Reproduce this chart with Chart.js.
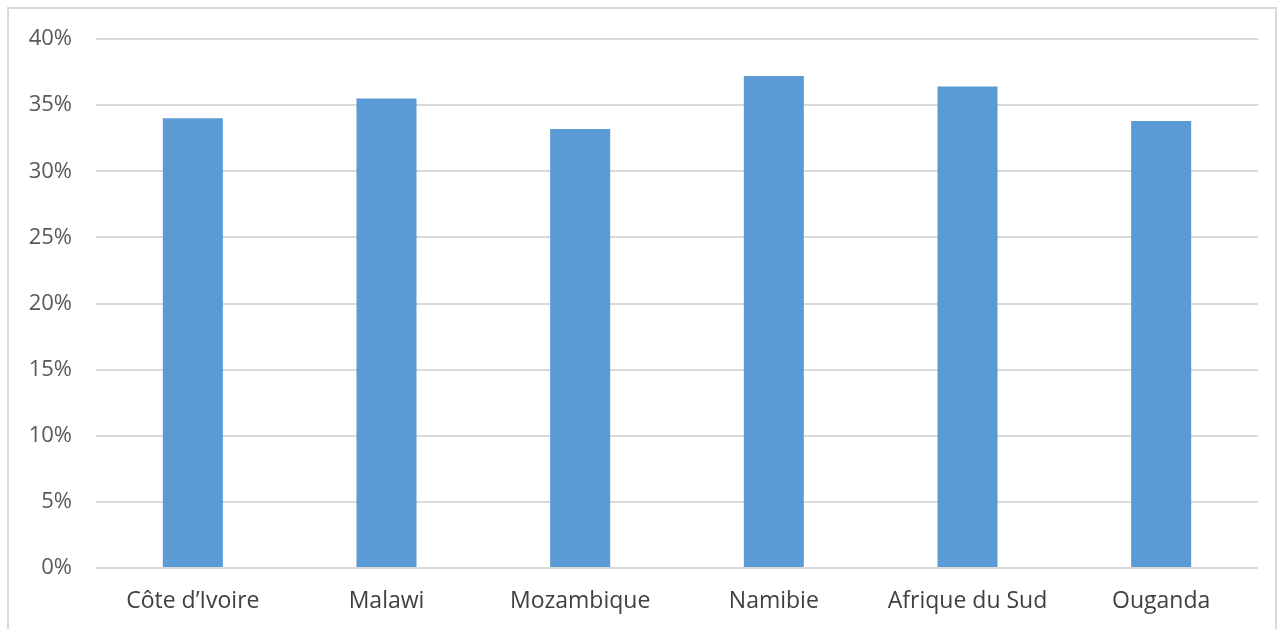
<!DOCTYPE html>
<html>
<head>
<meta charset="utf-8">
<script src="https://cdn.jsdelivr.net/npm/chart.js@4"></script>
<style>
  body { margin: 0; background: #fff; }
  #frame {
    position: absolute; left: 7px; top: 7px;
    width: 1270px; height: 630px;
    border: 2px solid #d9d9d9; box-sizing: border-box;
  }
  #wrap { position: absolute; left: 0; top: 0; width: 1278px; height: 629px; }
</style>
</head>
<body>
<div id="frame"></div>
<div id="wrap"><canvas id="chart"></canvas></div>
<script>
// countries and share values (percent)
const countries = ["Côte d’Ivoire", "Malawi", "Mozambique", "Namibie", "Afrique du Sud", "Ouganda"];
const shares = [34.0, 35.5, 33.2, 37.2, 36.4, 33.8];
const yTicks = [0, 5, 10, 15, 20, 25, 30, 35, 40];

const data = {
  labels: countries,
  datasets: [
    {
      data: shares,
      backgroundColor: "#5b9bd5",
      borderWidth: 0,
      categoryPercentage: 1,
      barPercentage: 0.31,
    },
  ],
};

const config = {
  type: "bar",
  data,
  options: {
    responsive: true,
    maintainAspectRatio: false,
    animation: false,
    layout: { padding: { left: 10, right: 20, top: 39, bottom: 0 } },
    plugins: { legend: { display: false }, tooltip: { enabled: false } },
    scales: {
      x: {
        grid: { display: false },
        border: { display: false },
        ticks: {
          color: "#404040",
          font: { family: "Open Sans", size: 23 },
          padding: 12,
          maxRotation: 0,
        },
        afterFit: (s) => { s.height = 61; },
      },
      y: {
        min: 0,
        max: 40,
        afterBuildTicks: (s) => { s.ticks = yTicks.map((v) => ({ value: v })); },
        grid: { color: "#d9d9d9", lineWidth: 2, drawTicks: false },
        border: { display: false },
        ticks: {
          color: "#595959",
          font: { family: "Open Sans", size: 22 },
          padding: 24,
          callback: (v) => v + "%",
        },
        afterFit: (s) => { s.width = 86; },
      },
    },
  },
};

new Chart(document.getElementById("chart"), config);
</script>
</body>
</html>
